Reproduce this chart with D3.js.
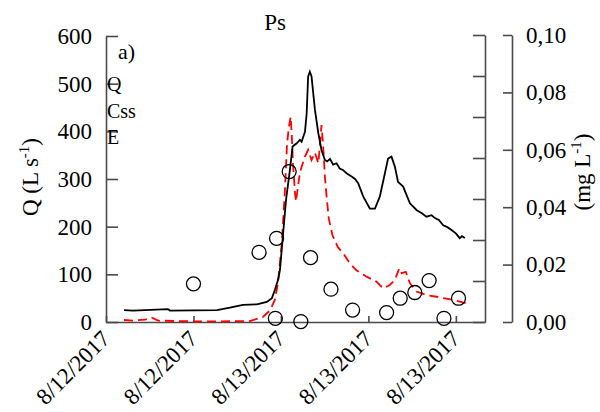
<!DOCTYPE html>
<html>
<head>
<meta charset="utf-8">
<script src="https://cdn.jsdelivr.net/npm/d3@7"></script>
<style>
body { margin: 0; background: #fff; }
svg { font-family: "Liberation Serif", "Times New Roman", serif; }
</style>
</head>
<body>
<svg width="600" height="412"></svg>
<script>
var svg = d3.select("svg"),
    width = +svg.attr("width"),
    height = +svg.attr("height");

var parse = d3.timeParse("%m/%d/%Y %H:%M");

// discharge Q (L s-1)
var qTimes = ["8/12/2017 13:14","8/12/2017 13:51","8/12/2017 16:15","8/12/2017 16:23","8/12/2017 19:37",
  "8/12/2017 20:30","8/12/2017 21:24","8/12/2017 22:21","8/12/2017 23:02","8/12/2017 23:23",
  "8/12/2017 23:35","8/12/2017 23:48","8/12/2017 23:56","8/13/2017 00:21","8/13/2017 00:37",
  "8/13/2017 00:48","8/13/2017 01:05","8/13/2017 01:18","8/13/2017 01:25","8/13/2017 01:39",
  "8/13/2017 01:46","8/13/2017 01:52","8/13/2017 01:59","8/13/2017 02:06","8/13/2017 02:20",
  "8/13/2017 02:34","8/13/2017 02:47","8/13/2017 03:01","8/13/2017 03:10","8/13/2017 03:22",
  "8/13/2017 03:35","8/13/2017 03:49","8/13/2017 04:02","8/13/2017 04:15","8/13/2017 04:30",
  "8/13/2017 04:51","8/13/2017 05:05","8/13/2017 05:18","8/13/2017 05:39","8/13/2017 06:06",
  "8/13/2017 06:27","8/13/2017 06:47","8/13/2017 07:08","8/13/2017 07:21","8/13/2017 07:35",
  "8/13/2017 07:49","8/13/2017 08:02","8/13/2017 08:23","8/13/2017 08:51","8/13/2017 09:18",
  "8/13/2017 09:40","8/13/2017 09:59","8/13/2017 10:20","8/13/2017 10:34","8/13/2017 10:50",
  "8/13/2017 11:08","8/13/2017 11:25","8/13/2017 11:42","8/13/2017 12:00","8/13/2017 12:16",
  "8/13/2017 12:25","8/13/2017 12:37"];
var qValues = [25,24,27,24,25, 30,36,37,42,50, 67,88,109,256,319, 368,375,382,378,399,
  438,515,525,515,445, 396,361,340,337,342, 330,333,322,319,312, 305,300,291,263,238,
  238,263,312,343,347, 326,294,284,249,235, 228,221,224,218,214, 203,199,193,186,176,
  180,176];

// suspended sediment Css (mg L-1)
var cTimes = ["8/12/2017 13:14","8/12/2017 13:51","8/12/2017 14:40","8/12/2017 15:09","8/12/2017 15:34",
  "8/12/2017 17:04","8/12/2017 18:27","8/12/2017 21:52","8/12/2017 22:46","8/12/2017 23:15",
  "8/12/2017 23:35","8/12/2017 23:48","8/13/2017 00:04","8/13/2017 00:16","8/13/2017 00:25",
  "8/13/2017 00:33","8/13/2017 00:40","8/13/2017 00:45","8/13/2017 00:49","8/13/2017 00:58",
  "8/13/2017 01:02","8/13/2017 01:10","8/13/2017 01:18","8/13/2017 01:25","8/13/2017 01:39",
  "8/13/2017 01:52","8/13/2017 02:06","8/13/2017 02:20","8/13/2017 02:34","8/13/2017 02:40",
  "8/13/2017 02:47","8/13/2017 02:54","8/13/2017 03:01","8/13/2017 03:08","8/13/2017 03:17",
  "8/13/2017 03:32","8/13/2017 03:55","8/13/2017 04:16","8/13/2017 04:44","8/13/2017 05:11",
  "8/13/2017 05:53","8/13/2017 06:34","8/13/2017 07:01","8/13/2017 07:28","8/13/2017 07:49",
  "8/13/2017 08:07","8/13/2017 08:17","8/13/2017 08:34","8/13/2017 08:51","8/13/2017 09:18",
  "8/13/2017 09:59","8/13/2017 10:41","8/13/2017 11:08","8/13/2017 11:49","8/13/2017 12:44"];
var cValues = [0.0007,0.0005,0.0008,0.0015,0.0005, 0.0003,0.0002,0.0003,0.0018,0.004,
  0.0077,0.0136,0.028,0.045,0.062, 0.068,0.0715,0.0645,0.056,0.045,
  0.042,0.047,0.052,0.054,0.0576, 0.060,0.0564,0.059,0.0553,0.061,
  0.0686,0.061,0.0506,0.0437,0.036, 0.0303,0.026,0.024,0.0204,0.018,
  0.0158,0.014,0.0117,0.0129,0.0146, 0.0187,0.017,0.0175,0.0135,0.0106,
  0.0094,0.0088,0.0083,0.0077,0.0065];

// E samples (circles)
var eTimes = ["8/12/2017 18:00","8/12/2017 22:30","8/12/2017 23:42","8/12/2017 23:37","8/13/2017 00:34",
  "8/13/2017 01:22","8/13/2017 02:02","8/13/2017 03:26","8/13/2017 04:55","8/13/2017 07:15",
  "8/13/2017 08:11","8/13/2017 09:11","8/13/2017 10:10","8/13/2017 11:11","8/13/2017 12:11"];
var eValues = [0.093,0.170,0.204,0.009,0.367, 0.001,0.157,0.080,0.029,0.023,
  0.058,0.072,0.101,0.009,0.058];

var qTicks = [0,100,200,300,400,500,600];
var cTicks = [0,0.02,0.04,0.06,0.08,0.10];
var eTicks = [0,0.1,0.2,0.3,0.4,0.5,0.6,0.7];
var legendLabels = ["Q","Css","E"];

var x = d3.scaleTime()
    .domain([parse("8/12/2017 12:00"), parse("8/13/2017 14:00")])
    .range([106, 485]);
var yQ = d3.scaleLinear().domain([0, 600]).range([322, 36]);
var yC = d3.scaleLinear().domain([0, 0.1]).range([322, 35]);
var yE = d3.scaleLinear().domain([0, 0.7]).range([322, 35]);

var axisColor = "#4a4a4a";

function styleAxis(g, size) {
  g.selectAll(".domain, line").attr("stroke", axisColor).attr("stroke-width", 1.6);
  g.selectAll("text").attr("fill", "#000").attr("font-size", size)
    .attr("font-family", "Liberation Serif, serif");
}

// left axis
svg.append("g")
    .attr("transform", "translate(106,0)")
    .call(d3.axisLeft(yQ).tickValues(qTicks).tickSizeInner(-12).tickSizeOuter(0).tickPadding(14))
    .call(styleAxis, 23);

// hidden E axis
svg.append("g")
    .attr("transform", "translate(485,0)")
    .call(d3.axisRight(yE).tickValues(eTicks).tickSizeInner(-12).tickSizeOuter(0).tickFormat(""))
    .call(styleAxis, 23);

// Css axis
var fmt = d3.format(".2f");
svg.append("g")
    .attr("transform", "translate(512,0)")
    .call(d3.axisRight(yC).tickValues(cTicks).tickSizeInner(-9).tickSizeOuter(0).tickPadding(14)
      .tickFormat(function(d) { return fmt(d).replace(".", ","); }))
    .call(styleAxis, 23);

// bottom axis
var xAxis = svg.append("g")
    .attr("transform", "translate(0,322)")
    .call(d3.axisBottom(x).ticks(d3.timeHour.every(6)).tickSizeInner(-6).tickSizeOuter(0)
      .tickFormat(d3.timeFormat("%-m/%d/%Y")))
    .call(styleAxis, 23);
xAxis.selectAll("text")
    .attr("text-anchor", "end")
    .attr("x", 0).attr("y", 0).attr("dy", 0)
    .attr("transform", "translate(5,18) rotate(-45)");

// lines
var qData = qTimes.map(function(t, i) { return { t: parse(t), v: qValues[i] }; });
var cData = cTimes.map(function(t, i) { return { t: parse(t), v: cValues[i] }; });
var eData = eTimes.map(function(t, i) { return { t: parse(t), v: eValues[i] }; });

svg.append("path")
    .datum(cData)
    .attr("fill", "none")
    .attr("stroke", "#ff0000")
    .attr("stroke-width", 1.8)
    .attr("stroke-dasharray", "9,5")
    .attr("d", d3.line().x(function(d) { return x(d.t); }).y(function(d) { return yC(d.v); }));

svg.append("path")
    .datum(qData)
    .attr("fill", "none")
    .attr("stroke", "#000")
    .attr("stroke-width", 1.8)
    .attr("d", d3.line().x(function(d) { return x(d.t); }).y(function(d) { return yQ(d.v); }));

svg.selectAll("circle.e")
  .data(eData)
  .enter().append("circle")
    .attr("class", "e")
    .attr("cx", function(d) { return x(d.t); })
    .attr("cy", function(d) { return yE(d.v); })
    .attr("r", 7)
    .attr("fill", "none")
    .attr("stroke", "#000")
    .attr("stroke-width", 1.3);

// texts
svg.append("text").attr("x", 275).attr("y", 30).attr("text-anchor", "middle")
    .attr("font-size", 23).text("Ps");
svg.append("text").attr("x", 118).attr("y", 59).attr("font-size", 22).text("a)");

svg.selectAll("text.leg")
  .data(legendLabels)
  .enter().append("text")
    .attr("class", "leg")
    .attr("x", 107)
    .attr("y", function(d, i) { return 91 + i * 26.5; })
    .attr("font-size", 20)
    .text(function(d) { return d; });

var yl = svg.append("text")
    .attr("transform", "translate(38,177) rotate(-90)")
    .attr("text-anchor", "middle")
    .attr("font-size", 23);
yl.append("tspan").text("Q (L s");
yl.append("tspan").attr("dy", -9).attr("font-size", 15).text("-1");
yl.append("tspan").attr("dy", 9).text(")");

var yr = svg.append("text")
    .attr("transform", "translate(590,172) rotate(-90)")
    .attr("text-anchor", "middle")
    .attr("font-size", 23);
yr.append("tspan").text("(mg L");
yr.append("tspan").attr("dy", -9).attr("font-size", 15).text("-1");
yr.append("tspan").attr("dy", 9).text(")");
</script>
</body>
</html>
